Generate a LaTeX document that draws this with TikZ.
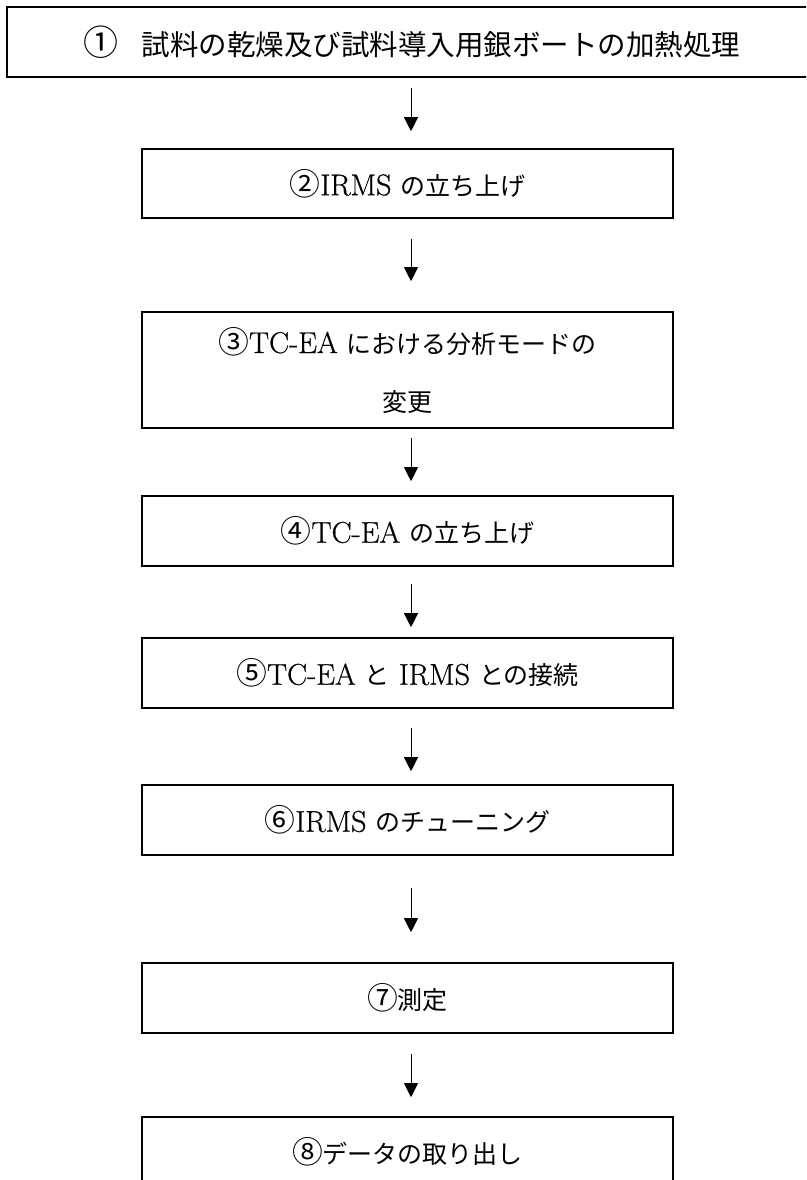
\documentclass[tikz,border=0pt]{standalone}
\usepackage{fontspec}
\setmainfont{Latin Modern Roman}[FakeBold=0.6]
\newfontfamily\cjk[Scale=0.833]{Noto Sans CJK JP}
\newcommand\J[1]{{\cjk #1}}
\newcommand\C[1]{{\cjk\fontsize{37}{58}\selectfont #1}}
\usetikzlibrary{arrows.meta}
\tikzset{
  box/.style={draw=black, line width=1.6pt, minimum width=531pt, minimum height=70pt,
    inner sep=0pt, font=\fontsize{30}{58}\selectfont, align=center},
  arr/.style={draw=black, line width=1pt, -{Triangle[width=14pt,length=14pt]}},
}
\begin{document}
\begin{tikzpicture}[x=1pt,y=-1pt]
\useasboundingbox (0,0) rectangle (806,1180);
\fill[white] (0,0) rectangle (806,1180);
\clip (0,0) rectangle (806,1180);
\coordinate (ax) at (411,0);
\node[box, minimum width=810pt, font=\fontsize{34.2}{40}\selectfont] (b1) at (412,42)
  {{\cjk\fontsize{42}{40}\selectfont ①}\J{\hspace{0.8em}試料の乾燥及び試料導入用銀ボートの加熱処理}};
\node[box, minimum height=69pt] (b2) at (407.5,183.5) {\C{②}IRMS \J{の立ち上げ}};
\node[box, minimum height=116pt] (b3) at (407.5,370) {\C{③}TC-EA \J{における分析モードの}\\\J{変更}};
\node[box] (b4) at (407.5,531) {\C{④}TC-EA \J{の立ち上げ}};
\node[box] (b5) at (407.5,673) {\C{⑤}TC-EA \J{と} IRMS \J{との接続}};
\node[box] (b6) at (407.5,820) {\C{⑥}IRMS \J{のチューニング}};
\node[box] (b7) at (407.5,998) {\C{⑦}\J{測定}};
\node[box] (b8) at (407.5,1152) {\C{⑧}\J{データの取り出し}};
\draw[arr, shorten <=10pt, shorten >=17pt] (b1.south -| ax) -- (b2.north -| ax);
\draw[arr, shorten <=20pt, shorten >=30pt] (b2.south -| ax) -- (b3.north -| ax);
\draw[arr, shorten <=9pt, shorten >=14pt] (b3.south -| ax) -- (b4.north -| ax);
\draw[arr, shorten <=17pt, shorten >=10pt] (b4.south -| ax) -- (b5.north -| ax);
\draw[arr, shorten <=19pt, shorten >=13pt] (b5.south -| ax) -- (b6.north -| ax);
\draw[arr, shorten <=32pt, shorten >=30pt] (b6.south -| ax) -- (b7.north -| ax);
\draw[arr, shorten <=20pt, shorten >=19pt] (b7.south -| ax) -- (b8.north -| ax);
\end{tikzpicture}
\end{document}
